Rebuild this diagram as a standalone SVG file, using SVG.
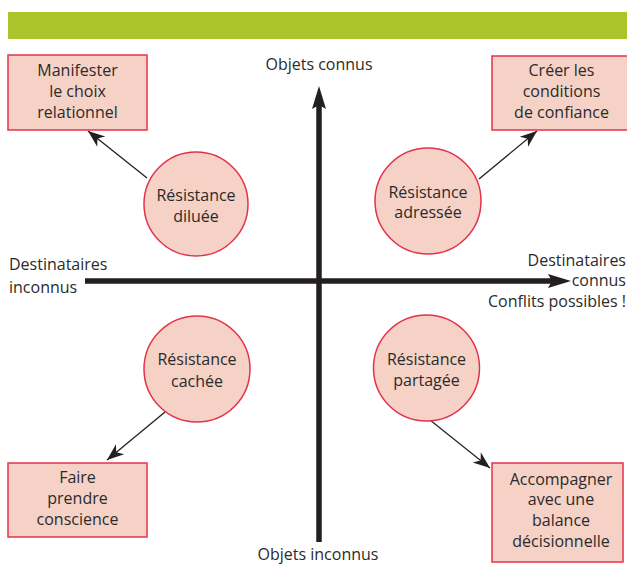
<svg xmlns="http://www.w3.org/2000/svg" width="627" height="566" viewBox="0 0 627 566">
<style>
text{font-family:"Open Sans","DejaVu Sans",sans-serif;font-size:16px;fill:#2b2b2b}
.c{text-anchor:middle}
.e{text-anchor:end}
.box{fill:#f6d1c5;stroke:#e2334b;stroke-width:1.5}
.node circle{fill:#f6d1c5;stroke:#e2334b;stroke-width:1.5}
.thin{stroke:#231f20;stroke-width:1.3;fill:none;marker-end:url(#ah)}
.axis{stroke:#231f20;stroke-width:5.5;fill:none;marker-end:url(#ax)}
</style>
<defs>
<marker id="ah" markerUnits="userSpaceOnUse" orient="auto" refX="0" refY="0" viewBox="-20 -10 22 20" markerWidth="22" markerHeight="20" overflow="visible">
<path d="M0,0 L-17,-6.5 L-12,0 L-17,6.5 Z" fill="#231f20"/>
</marker>
<marker id="ax" markerUnits="userSpaceOnUse" orient="auto" refX="0" refY="0" viewBox="-10 -10 32 20" markerWidth="32" markerHeight="20" overflow="visible">
<path d="M-4,-7 L19,0 L-4,7 L0,0 Z" fill="#231f20"/>
</marker>
</defs>
<rect x="8" y="12" width="619" height="27" fill="#abc42a"/>
<g id="connectors">
<line class="axis" x1="319" y1="542" x2="319" y2="105"/>
<line class="axis" x1="85" y1="281" x2="552" y2="281"/>
<line class="thin" x1="147" y1="178" x2="88" y2="131"/>
<line class="thin" x1="479" y1="179" x2="537" y2="131"/>
<line class="thin" x1="165" y1="412" x2="107" y2="460"/>
<line class="thin" x1="430" y1="420" x2="490" y2="468"/>
</g>
<g id="axis-labels">
<text class="c" x="319" y="70">Objets connus</text>
<text class="c" x="318" y="560">Objets inconnus</text>
<text x="9" y="270">Destinataires</text>
<text x="9" y="293">inconnus</text>
<text class="e" x="626" y="266">Destinataires</text>
<text class="e" x="626" y="286">connus</text>
<text class="e" x="626" y="307">Conflits possibles !</text>
</g>
<g id="box-manifester">
<rect class="box" x="8" y="55" width="139" height="75"/>
<text class="c" x="77.5" y="76">Manifester</text>
<text class="c" x="77.5" y="97">le choix</text>
<text class="c" x="77.5" y="118">relationnel</text>
</g>
<g id="box-creer">
<rect class="box" x="492" y="56" width="139" height="74"/>
<text class="c" x="561.5" y="76">Créer les</text>
<text class="c" x="561.5" y="97">conditions</text>
<text class="c" x="561.5" y="118">de confiance</text>
</g>
<g id="box-faire">
<rect class="box" x="8" y="463" width="139" height="74"/>
<text class="c" x="77.5" y="483">Faire</text>
<text class="c" x="77.5" y="504">prendre</text>
<text class="c" x="77.5" y="525">conscience</text>
</g>
<g id="box-accompagner">
<rect class="box" x="492" y="463" width="131" height="99"/>
<text class="c" x="561" y="485">Accompagner</text>
<text class="c" x="561" y="505">avec une</text>
<text class="c" x="561" y="526">balance</text>
<text class="c" x="561" y="547">décisionnelle</text>
</g>
<g id="node-diluee" class="node">
<circle cx="196" cy="204" r="52"/>
<text class="c" x="196" y="201">Résistance</text>
<text class="c" x="196" y="222">diluée</text>
</g>
<g id="node-adressee" class="node">
<circle cx="428" cy="201" r="53"/>
<text class="c" x="428" y="198">Résistance</text>
<text class="c" x="428" y="218">adressée</text>
</g>
<g id="node-cachee" class="node">
<circle cx="197" cy="369" r="53"/>
<text class="c" x="197" y="365">Résistance</text>
<text class="c" x="197" y="387">cachée</text>
</g>
<g id="node-partagee" class="node">
<circle cx="426.5" cy="368" r="53"/>
<text class="c" x="426.5" y="365">Résistance</text>
<text class="c" x="426.5" y="386">partagée</text>
</g>
</svg>
